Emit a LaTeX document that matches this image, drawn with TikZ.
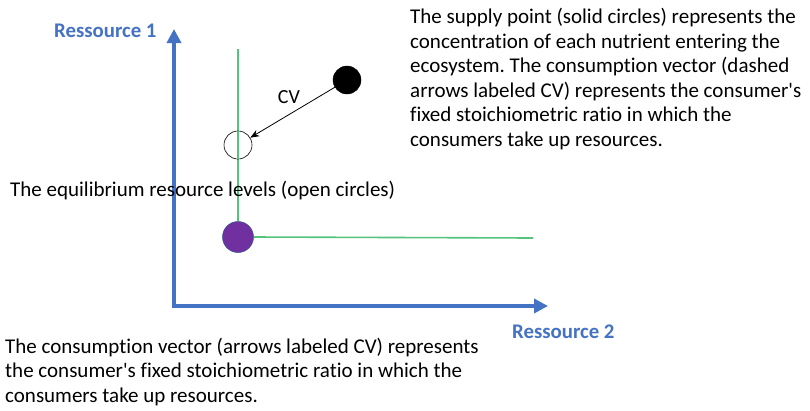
\documentclass[tikz,border=0pt]{standalone}
\usepackage{fontspec}
\setmainfont{Carlito}[Ligatures={TeXOff,NoCommon}]
\usetikzlibrary{arrows.meta}
\frenchspacing
\definecolor{axisblue}{HTML}{4472C4}
\definecolor{lgreen}{RGB}{84,196,124}
\definecolor{purp}{HTML}{7030A0}
\definecolor{purpedge}{HTML}{2F528F}
\tikzset{
  txt/.style={inner sep=0pt, anchor=base west, font=\fontsize{21}{24}\selectfont},
  axlabel/.style={inner sep=0pt, anchor=base west, font=\fontsize{20.8}{24}\selectfont\bfseries, text=axisblue},
  axisline/.style={draw=axisblue, line width=4.5pt, -{Triangle[length=14pt,width=14pt]}},
  gline/.style={draw=lgreen, line width=1.6pt},
  dot/.style={circle, minimum size=28pt, inner sep=0pt},
}
\begin{document}
\begin{tikzpicture}[x=1pt,y=-1pt]
\useasboundingbox[fill=white] (0,0) rectangle (810,410);
% axes
\coordinate (ytip) at (174,29);
\coordinate (xtip) at (548,306);
\draw[axisline] (174,308) -- (ytip);
\draw[axisline] (172,306) -- (xtip);
% green lines
\coordinate (gtop) at (238,49);
\coordinate (gend) at (533,238);
\node[dot, fill=purp, draw=purpedge, line width=0.5pt, minimum size=31pt] (eq) at (238,237) {};
\draw[gline] (gtop) -- (eq.north);
\draw[gline] (eq.east) -- (gend);
\node[dot, fill=white, draw=black, line width=0.6pt] (open) at (238,145) {};
\draw[gline] (open.north) -- (open.south);
\node[dot, fill=black, draw=black] (supply) at (347,80) {};
\draw[black, line width=0.8pt, -{Stealth[length=9pt,width=7pt]}] (supply) -- (open);
\node[inner sep=0pt, font=\fontsize{20}{24}\selectfont] (cv) at (289,97) {CV};
% labels
\node[axlabel] (r1) at (54,37) {Ressource 1};
\node[axlabel] (r2) at (512,338) {Ressource 2};
\node[txt] (eqlab) at (10,196) {The equilibrium resource levels (open circles)};
% right paragraph
\node[txt] (p1) at (410,23) {The supply point (solid circles) represents the};
\node[txt] (p2) at (410,48) {concentration of each nutrient entering the};
\node[txt] (p3) at (410,72) {ecosystem. The consumption vector (dashed};
\node[txt] (p4) at (410,97) {arrows labeled CV) represents the consumer's};
\node[txt] (p5) at (410,121) {fixed stoichiometric ratio in which the};
\node[txt] (p6) at (410,146) {consumers take up resources.};
% bottom paragraph
\node[txt] (b1) at (5,353) {The consumption vector (arrows labeled CV) represents};
\node[txt] (b2) at (5,377) {the consumer's fixed stoichiometric ratio in which the};
\node[txt] (b3) at (5,402) {consumers take up resources.};
\end{tikzpicture}
\end{document}
